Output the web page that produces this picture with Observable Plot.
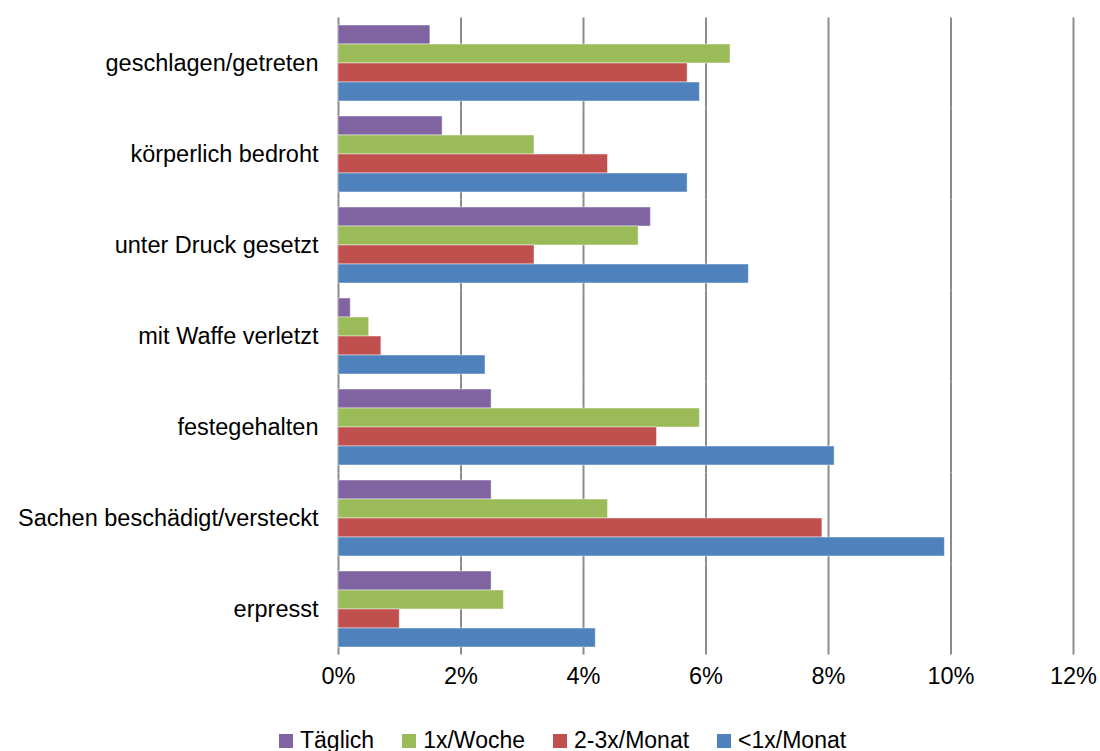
<!DOCTYPE html>
<html>
<head>
<meta charset="utf-8">
<script src="https://cdn.jsdelivr.net/npm/d3@7"></script>
<script src="https://cdn.jsdelivr.net/npm/@observablehq/plot@0.6"></script>
<style>
  html, body { margin: 0; padding: 0; background: #fff; }
  #chart { width: 1100px; }
  .legend { display: flex; justify-content: flex-start; align-items: center; margin-left: 279px; margin-top: 12px;
            font-family: "Liberation Sans", Arial, sans-serif; font-size: 23px; color: #000; line-height: 27px; }
  .legend .item { display: flex; align-items: center; margin-right: 28px; }
  .legend .sw { width: 14px; height: 14px; margin-right: 7px; }
</style>
</head>
<body>
<div id="chart"></div>
<script>
const categories = ["geschlagen/getreten", "körperlich bedroht", "unter Druck gesetzt", "mit Waffe verletzt", "festegehalten", "Sachen beschädigt/versteckt", "erpresst"];
const series = ["Täglich", "1x/Woche", "2-3x/Monat", "<1x/Monat"];
const taeglich = [1.5, 1.7, 5.1, 0.2, 2.5, 2.5, 2.5];
const woche = [6.4, 3.2, 4.9, 0.5, 5.9, 4.4, 2.7];
const monat23 = [5.7, 4.4, 3.2, 0.7, 5.2, 7.9, 1.0];
const monatLt1 = [5.9, 5.7, 6.7, 2.4, 8.1, 9.9, 4.2];
const colors = ["#8064A2", "#9BBB59", "#C0504D", "#4F81BD"];
const xTicks = [0, 2, 4, 6, 8, 10, 12];

const seriesValues = [taeglich, woche, monat23, monatLt1];
const data = [];
categories.forEach((c, i) => {
  series.forEach((s, j) => data.push({category: c, series: s, value: seriesValues[j][i]}));
});

const chart = Plot.plot({
  width: 1100,
  height: 715,
  marginLeft: 338,
  marginRight: 27,
  marginTop: 15,
  marginBottom: 58,
  style: {fontFamily: "'Liberation Sans', Arial, sans-serif", fontSize: "23.5px", color: "#000", background: "#fff", overflow: "visible"},
  x: {domain: [0, 12], ticks: xTicks, tickFormat: d => d + "%", tickSize: 0, tickPadding: 20, label: null},
  y: {domain: series, axis: null, padding: 0},
  fy: {domain: categories, paddingInner: 0.165, paddingOuter: 0.0825, label: null, tickSize: 0, tickPadding: 20, axis: "left"},
  color: {domain: series, range: colors},
  marks: [
    Plot.ruleX(xTicks, {x: d => d, stroke: "#8c8c8c", strokeWidth: 2, insetTop: -7.6, insetBottom: -7.6}),
    Plot.barX(data, {x: "value", y: "series", fy: "category", fill: "series", stroke: "#ffffff", strokeOpacity: 0.45, strokeWidth: 1})
  ]
});
document.getElementById("chart").appendChild(chart);

const legend = document.createElement("div");
legend.className = "legend";
series.forEach((s, j) => {
  const item = document.createElement("div");
  item.className = "item";
  const sw = document.createElement("span");
  sw.className = "sw";
  sw.style.background = colors[j];
  const t = document.createElement("span");
  t.textContent = s;
  item.appendChild(sw);
  item.appendChild(t);
  legend.appendChild(item);
});
document.getElementById("chart").appendChild(legend);
</script>
</body>
</html>
